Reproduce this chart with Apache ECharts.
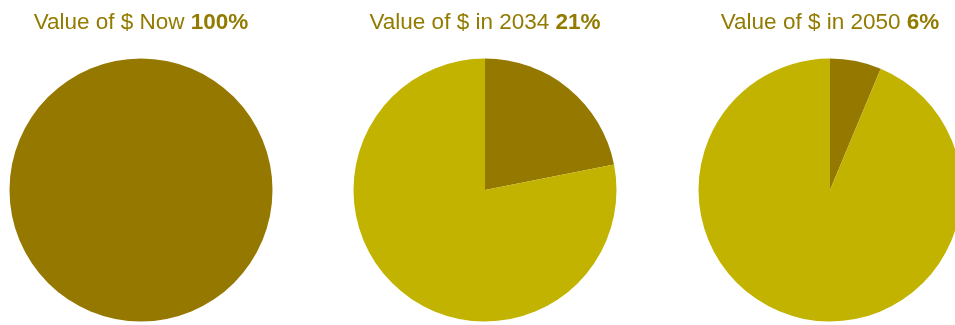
<!DOCTYPE html>
<html>
<head>
<meta charset="utf-8">
<script src="https://cdn.jsdelivr.net/npm/echarts@6/dist/echarts.min.js"></script>
<style>html,body{margin:0;padding:0;background:#fff;}#c{width:955px;height:325px;}</style>
</head>
<body>
<div id="c"></div>
<script>
var titlesText = ["Value of $ Now", "Value of $ in 2034", "Value of $ in 2050"];
var titlePct = ["100%", "21%", "6%"];
var remainingValue = [100, 21.9, 6.3];
var lostValue = [0, 78.1, 93.7];
var sliceNames = ["Remaining value", "Lost value"];

var centersX = [141, 485, 830];
var DARK = "#957800", LIGHT = "#c2b300", TEXT = "#927b00";
var FONT = 'Liberation Sans, Arial, sans-serif';

var chart = echarts.init(document.getElementById('c'), null, {renderer: 'canvas'});
var titles = [], series = [];
for (var i = 0; i < 3; i++) {
  titles.push({
    text: titlesText[i] + " {b|" + titlePct[i] + "}",
    left: centersX[i] - 5,
    textAlign: 'center',
    top: 6,
    textStyle: {
      fontFamily: FONT,
      fontSize: 22.5, fontWeight: 'normal', color: TEXT,
      rich: { b: { fontFamily: FONT, fontSize: 22.5, fontWeight: 'bold', color: TEXT } }
    }
  });
  series.push({
    type: 'pie',
    center: [centersX[i], 190],
    radius: 131.5,
    startAngle: 90,
    clockwise: true,
    silent: true,
    label: {show: false},
    labelLine: {show: false},
    itemStyle: {borderWidth: 0},
    emphasis: {disabled: true},
    data: [
      {name: sliceNames[0], value: remainingValue[i], itemStyle: {color: DARK}},
      {name: sliceNames[1], value: lostValue[i], itemStyle: {color: LIGHT}}
    ]
  });
}
chart.setOption({animation: false, title: titles, series: series});
</script>
</body>
</html>
